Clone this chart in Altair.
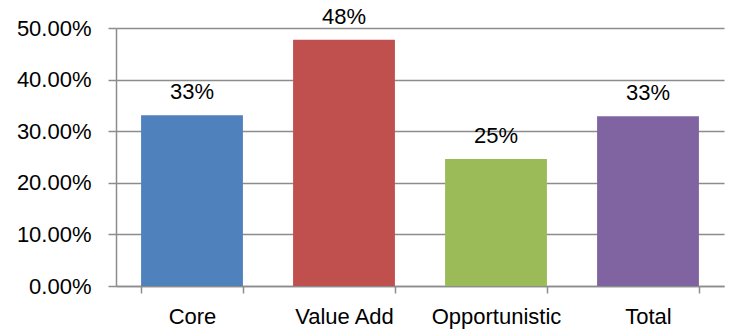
import altair as alt
import pandas as pd

categories = ["Core", "Value Add", "Opportunistic", "Total"]
values = [0.331, 0.477, 0.246, 0.329]
colors = ["#4F81BD", "#C0504D", "#9BBB59", "#8064A2"]

df = pd.DataFrame({"category": categories, "value": values})

FONT = "Liberation Sans"
FS = 22
GRID = "#8c8c8c"

x = alt.X(
    "category:N",
    sort=categories,
    scale=alt.Scale(paddingInner=0.33, paddingOuter=0.165),
    axis=alt.Axis(
        title=None, labelAngle=0, tickBand="extent", tickSize=7,
        tickColor=GRID, tickWidth=1.5, domainColor=GRID, domainWidth=1.5,
        labelFont=FONT, labelFontSize=FS, labelColor="#000000", labelPadding=13,
        grid=False,
    ),
)
y = alt.Y(
    "value:Q",
    scale=alt.Scale(domain=[0, 0.5]),
    axis=alt.Axis(
        title=None, format=".2%", values=[0, 0.1, 0.2, 0.3, 0.4, 0.5],
        tickSize=8, tickColor=GRID, tickWidth=1.5, domainColor=GRID, domainWidth=1.5,
        grid=True, gridColor=GRID, gridWidth=1.5,
        labelFont=FONT, labelFontSize=FS, labelColor="#000000", labelPadding=17,
    ),
)

bars = alt.Chart(df).mark_bar().encode(
    x=x, y=y,
    color=alt.Color("category:N", sort=categories,
                    scale=alt.Scale(domain=categories, range=colors), legend=None),
)
text = alt.Chart(df).mark_text(
    font=FONT, fontSize=FS, dy=-16, baseline="alphabetic", color="#000000"
).encode(
    x=alt.X("category:N", sort=categories),
    y="value:Q",
    text=alt.Text("value:Q", format=".0%"),
)

chart = (bars + text).properties(
    width=608, height=258,
    autosize=alt.AutoSizeParams(type="none"),
    padding={"left": 116, "top": 28, "right": 7, "bottom": 47},
).configure_view(stroke=None)

chart.save("out.html", embed_options={"renderer": "svg", "actions": False})
